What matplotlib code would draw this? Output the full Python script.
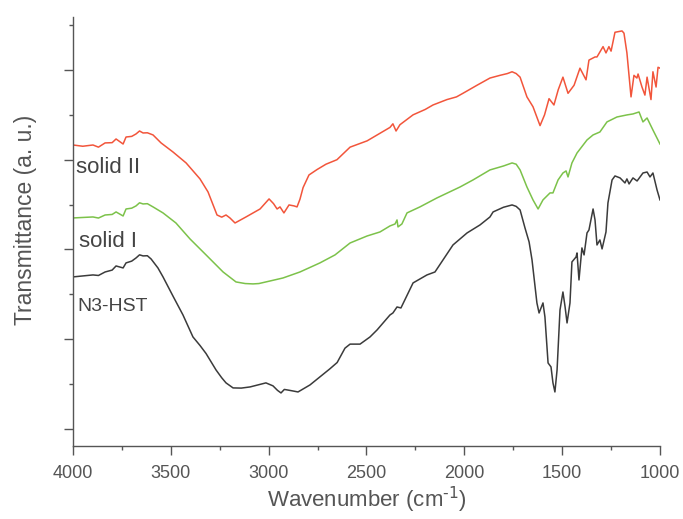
import matplotlib
matplotlib.use("Agg")
import matplotlib.pyplot as plt
from matplotlib.ticker import MultipleLocator, NullFormatter

plt.rcParams['font.family'] = ['Liberation Sans', 'DejaVu Sans']

# FTIR spectra (wavenumber in cm^-1, transmittance in arbitrary units, offset)
wn_solid2 = [4000, 3950, 3898, 3870, 3836, 3800, 3780, 3744, 3729, 3700, 3678,
             3660, 3642, 3620, 3591, 3550, 3489, 3422, 3351, 3310, 3284, 3264,
             3240, 3218, 3198, 3172, 3116, 3044, 2998, 2975, 2957, 2942, 2922,
             2896, 2870, 2855, 2840, 2824, 2794, 2753, 2707, 2651, 2584, 2497,
             2380, 2365, 2349, 2329, 2262, 2200, 2160, 2089, 2040, 2007, 1935,
             1869, 1818, 1780, 1756, 1735, 1715, 1680, 1649, 1613, 1590, 1567,
             1542, 1520, 1496, 1470, 1439, 1409, 1378, 1363, 1332, 1322, 1291,
             1276, 1261, 1250, 1230, 1194, 1184, 1169, 1148, 1133, 1118, 1112,
             1092, 1077, 1066, 1046, 1036, 1020, 1010, 1000]
t_solid2 = [31.64, 31.5, 31.64, 31.4, 31.87, 31.9, 32.31, 31.75, 32.53, 32.6, 32.87,
            33.2, 32.98, 33.0, 32.76, 31.87, 30.86, 29.64, 27.86, 26.41, 24.96, 23.84,
            23.6, 23.84, 23.51, 22.95, 23.62, 24.51, 25.63, 25.1, 24.51, 24.74, 24.07,
            24.96, 24.85, 24.74, 25.6, 26.9, 28.3, 28.9, 29.5, 30.0, 31.4, 32.1,
            33.6, 34.0, 33.2, 33.9, 35.0, 35.6, 36.1, 36.7, 37.0, 37.4, 38.3,
            39.1, 39.4, 39.6, 39.8, 39.6, 39.2, 37.0, 35.9, 33.8, 35.0, 36.8,
            36.1, 37.8, 39.2, 37.4, 38.3, 40.2, 38.9, 41.1, 41.45, 41.45, 42.6,
            41.9, 42.6, 42.1, 44.2, 44.35, 44.1, 41.9, 37.0, 39.4, 39.1, 39.55,
            38.1, 37.2, 39.2, 36.7, 39.8, 38.1, 40.3, 40.2]

wn_solid1 = [4000, 3898, 3870, 3836, 3800, 3780, 3744, 3729, 3700, 3678, 3660,
             3642, 3620, 3591, 3540, 3474, 3402, 3320, 3233, 3167, 3120, 3080,
             3050, 3014, 2927, 2840, 2738, 2661, 2584, 2497, 2431, 2380, 2354,
             2344, 2339, 2319, 2293, 2227, 2140, 2022, 1956, 1869, 1800, 1756,
             1735, 1715, 1680, 1649, 1623, 1598, 1562, 1547, 1521, 1496, 1480,
             1470, 1450, 1424, 1373, 1342, 1307, 1271, 1220, 1169, 1138, 1107,
             1087, 1066, 1036, 1000]
t_solid1 = [23.51, 23.62, 23.5, 23.84, 23.9, 24.18, 23.73, 24.51, 24.6, 24.85, 25.2,
            25.07, 25.1, 24.74, 24.07, 22.95, 21.17, 19.39, 17.49, 16.38, 16.2, 16.16,
            16.2, 16.38, 16.82, 17.49, 18.50, 19.39, 20.72, 21.50, 21.95, 22.62, 22.84,
            23.29, 22.51, 22.84, 24.07, 24.74, 25.74, 26.96, 27.74, 28.86, 29.3, 29.64,
            29.5, 28.86, 26.96, 25.52, 24.51, 25.52, 26.30, 26.30, 27.74, 28.52, 28.75,
            28.08, 29.64, 30.75, 32.20, 32.76, 33.09, 34.21, 34.76, 34.99, 35.10, 35.32,
            34.21, 34.65, 33.31, 31.75]

wn_n3hst = [4000, 3898, 3870, 3836, 3800, 3780, 3744, 3729, 3700, 3678, 3660,
            3642, 3620, 3601, 3566, 3540, 3489, 3438, 3387, 3351, 3320, 3269,
            3240, 3218, 3182, 3140, 3095, 3014, 2978, 2955, 2937, 2920, 2906,
            2876, 2850, 2789, 2687, 2650, 2610, 2584, 2533, 2482, 2446, 2380,
            2365, 2344, 2324, 2262, 2191, 2150, 2058, 1986, 1920, 1869, 1853,
            1800, 1756, 1735, 1715, 1690, 1669, 1654, 1629, 1618, 1598, 1588,
            1572, 1557, 1547, 1537, 1526, 1511, 1496, 1485, 1475, 1460, 1450,
            1429, 1424, 1414, 1399, 1388, 1373, 1363, 1342, 1332, 1322, 1307,
            1296, 1276, 1266, 1245, 1230, 1204, 1179, 1169, 1158, 1138, 1117,
            1087, 1066, 1051, 1036, 1015, 1000]
t_n3hst = [16.94, 17.16, 17.1, 17.49, 17.7, 18.16, 17.94, 18.50, 18.7, 19.05, 19.4,
           19.28, 19.3, 18.94, 17.94, 16.94, 14.8, 12.70, 10.25, 9.3, 8.4, 6.57,
           5.7, 5.13, 4.57, 4.55, 4.68, 5.13, 4.8, 4.3, 4.01, 4.4, 4.35,
           4.23, 4.12, 4.90, 6.7, 7.4, 9.0, 9.45, 9.45, 10.25, 11.03, 12.70,
           12.92, 13.59, 13.48, 16.27, 17.16, 17.49, 20.50, 21.84, 22.73, 23.62,
           24.18, 24.7, 24.96, 24.8, 24.40, 22.40, 20.84, 18.83, 14.04, 12.92, 14.04,
           12.48, 7.35, 6.91, 5.13, 4.12, 6.57, 13.26, 15.26, 13.59, 11.81, 14.04,
           18.61, 19.16, 19.61, 16.60, 20.17, 19.39, 21.84, 22.17, 24.51, 23.29, 20.50,
           21.06, 20.06, 21.95, 25.18, 27.74, 28.19, 27.97, 27.41, 27.86, 27.30, 27.97,
           27.63, 28.52, 28.63, 28.08, 28.52, 26.63, 25.52]

series_names = ["solid II", "solid I", "N3-HST"]
x_tick_values = [4000, 3500, 3000, 2500, 2000, 1500, 1000]

fig = plt.figure(figsize=(6.83, 5.19), dpi=100)
ax = fig.add_axes([0.1069, 0.1407, 0.8594, 0.8265])

ax.plot(wn_solid2, t_solid2, color="#f2553b", lw=1.1)
ax.plot(wn_solid1, t_solid1, color="#7cc24a", lw=1.1)
ax.plot(wn_n3hst, t_n3hst, color="#3b3b3b", lw=1.1)

ax.set_xlim(4000, 1000)
ax.set_ylim(-1.9, 45.9)

text_color = "#444444"
ax.text(3985, 28.5, series_names[0], fontsize=16, color=text_color, va="baseline")
ax.text(3969, 20.3, series_names[1], fontsize=16, color=text_color, va="baseline")
ax.text(3980, 13.15, series_names[2], fontsize=14, color=text_color, va="baseline")

for s in ["top", "right"]:
    ax.spines[s].set_visible(False)
for s in ["left", "bottom"]:
    ax.spines[s].set_color("#555555")
    ax.spines[s].set_linewidth(1.0)

ax.set_xticks(x_tick_values)
ax.xaxis.set_minor_locator(MultipleLocator(250))
ax.yaxis.set_major_locator(MultipleLocator(10))
ax.yaxis.set_minor_locator(MultipleLocator(5))
ax.yaxis.set_major_formatter(NullFormatter())
ax.tick_params(axis="both", which="major", direction="out", length=6.5, width=1.0,
               color="#555555", labelsize=13, labelcolor="#555555", pad=7)
ax.tick_params(axis="both", which="minor", direction="out", length=3.2, width=1.0,
               color="#555555")

ax.set_xlabel(r"Wavenumber (cm$^{\text{-1}}$)", fontsize=16, color="#555555")
ax.xaxis.set_label_coords(0.5, -0.09)
ax.set_ylabel("Transmittance (a. u.)", fontsize=16.5, color="#555555")
ax.yaxis.set_label_coords(-0.062, 0.527)

fig.savefig("out.png", dpi=100)
